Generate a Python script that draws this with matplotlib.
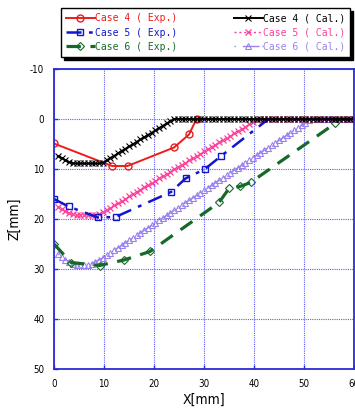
import matplotlib
matplotlib.use("Agg")
import matplotlib.pyplot as plt

plt.rcParams["axes.unicode_minus"] = False

# Measured profiles (experiment)
x_exp4 = [0.0, 11.6, 14.7, 24.0, 27.0, 28.5, 60.0]
z_exp4 = [4.9, 9.4, 9.4, 5.7, 3.1, 0.0, 0.0]

x_exp5 = [0.0, 2.9, 8.8, 12.3, 23.4, 26.3, 30.2, 33.3, 42.9, 60.0]
z_exp5 = [16.0, 17.5, 19.7, 19.6, 14.6, 11.9, 10.0, 7.5, 0.0, 0.0]

x_exp6 = [0.0, 3.4, 9.1, 14.0, 19.2, 33.0, 35.0, 37.2, 39.3, 56.2, 57.2, 60.0]
z_exp6 = [25.0, 28.7, 29.3, 28.2, 26.5, 16.7, 13.9, 13.5, 12.7, 0.9, 0.0, 0.0]

# Calculated profiles (shared X stations)
x_cal = [0.75, 1.5, 2.25, 3.0, 3.75, 4.5, 5.25, 6.0, 6.75, 7.5,
         8.25, 9.0, 9.75, 10.5, 11.25, 12.0, 12.75, 13.5, 14.25, 15.0,
         15.75, 16.5, 17.25, 18.0, 18.75, 19.5, 20.25, 21.0, 21.75, 22.5,
         23.25, 24.0, 24.75, 25.5, 26.25, 27.0, 27.75, 28.5, 29.25, 30.0,
         30.75, 31.5, 32.25, 33.0, 33.75, 34.5, 35.25, 36.0, 36.75, 37.5,
         38.25, 39.0, 39.75, 40.5, 41.25, 42.0, 42.75, 43.5, 44.25, 45.0,
         45.75, 46.5, 47.25, 48.0, 48.75, 49.5, 50.25, 51.0, 51.75, 52.5,
         53.25, 54.0, 54.75, 55.5, 56.25, 57.0, 57.75, 58.5, 59.25, 60.0]

z_cal4 = [7.4, 7.8, 8.2, 8.6, 8.85, 8.9, 8.9, 8.9, 8.9, 8.9,
          8.9, 8.9, 8.75, 8.3, 7.8, 7.4, 6.9, 6.4, 6.0, 5.5,
          5.1, 4.6, 4.1, 3.7, 3.2, 2.8, 2.3, 1.8, 1.4, 0.9,
          0.5, 0.0, 0.0, 0.0, 0.0, 0.0, 0.0, 0.0, 0.0, 0.0,
          0.0, 0.0, 0.0, 0.0, 0.0, 0.0, 0.0, 0.0, 0.0, 0.0,
          0.0, 0.0, 0.0, 0.0, 0.0, 0.0, 0.0, 0.0, 0.0, 0.0,
          0.0, 0.0, 0.0, 0.0, 0.0, 0.0, 0.0, 0.0, 0.0, 0.0,
          0.0, 0.0, 0.0, 0.0, 0.0, 0.0, 0.0, 0.0, 0.0, 0.0]

z_cal5 = [17.6, 18.0, 18.4, 18.8, 19.1, 19.2, 19.2, 19.2, 19.2, 19.2,
          19.2, 19.1, 18.7, 18.2, 17.8, 17.3, 16.9, 16.4, 16.0, 15.5,
          15.1, 14.6, 14.2, 13.7, 13.3, 12.8, 12.4, 11.9, 11.5, 11.0,
          10.6, 10.1, 9.7, 9.2, 8.8, 8.3, 7.9, 7.4, 7.0, 6.5,
          6.1, 5.6, 5.2, 4.7, 4.3, 3.8, 3.4, 2.9, 2.5, 2.0,
          1.6, 1.1, 0.7, 0.2, 0.0, 0.0, 0.0, 0.0, 0.0, 0.0,
          0.0, 0.0, 0.0, 0.0, 0.0, 0.0, 0.0, 0.0, 0.0, 0.0,
          0.0, 0.0, 0.0, 0.0, 0.0, 0.0, 0.0, 0.0, 0.0, 0.0]

z_cal6 = [27.0, 27.6, 28.1, 28.5, 28.9, 29.1, 29.2, 29.2, 29.1, 28.9,
          28.6, 28.2, 27.8, 27.3, 26.8, 26.3, 25.8, 25.3, 24.8, 24.3,
          23.8, 23.3, 22.8, 22.3, 21.8, 21.3, 20.8, 20.3, 19.8, 19.3,
          18.8, 18.3, 17.8, 17.3, 16.8, 16.3, 15.8, 15.3, 14.8, 14.3,
          13.8, 13.3, 12.8, 12.3, 11.8, 11.3, 10.8, 10.3, 9.8, 9.3,
          8.8, 8.3, 7.8, 7.3, 6.8, 6.3, 5.8, 5.3, 4.8, 4.3,
          3.8, 3.3, 2.8, 2.3, 1.8, 1.3, 0.8, 0.3, 0.0, 0.0,
          0.0, 0.0, 0.0, 0.0, 0.0, 0.0, 0.0, 0.0, 0.0, 0.0]

labels_exp = ["Case 4 ( Exp.)", "Case 5 ( Exp.)", "Case 6 ( Exp.)"]
labels_cal = ["Case 4 ( Cal.)", "Case 5 ( Cal.)", "Case 6 ( Cal.)"]
x_ticks = [0, 10, 20, 30, 40, 50, 60]
z_ticks = [-10, 0, 10, 20, 30, 40, 50]

c_red = "#ee1c1c"
c_blue = "#1414cc"
c_green = "#17692a"
c_black = "#000000"
c_pink = "#ff3d9a"
c_purple = "#9a82ee"
c_axis = "#2b2bd6"
c_grid = "#5a5aff"

narrow = dict(family="DejaVu Sans", stretch="condensed")

fig = plt.figure(figsize=(3.55, 4.11), dpi=100)
ax = fig.add_axes([54 / 355, 42 / 411, 300 / 355, 300 / 411])

# calculated curves
h_c6, = ax.plot(x_cal, z_cal6, color=c_purple, lw=1.0, linestyle=(0, (1, 5, 12, 2)),
                marker="^", ms=5, mfc="none", mec=c_purple, mew=0.8,
                label=labels_cal[2])
h_c5, = ax.plot(x_cal, z_cal5, color=c_pink, lw=1.0, linestyle=(0, (1.5, 2)),
                marker="x", ms=4.5, mec=c_pink, mew=0.9, label=labels_cal[1])

# measured curves
h_e6, = ax.plot(x_exp6, z_exp6, color=c_green, lw=2.3, linestyle=(0, (4.5, 3)),
                marker="D", ms=4.2, mfc="none", mec=c_green, mew=0.8,
                markevery=list(range(10)), label=labels_exp[2])
h_e5, = ax.plot(x_exp5, z_exp5, color=c_blue, lw=1.8, linestyle=(0, (6, 3, 1.5, 3)),
                marker="s", ms=5, mfc="none", mec=c_blue, mew=1.0,
                markevery=list(range(8)), label=labels_exp[1])
h_e4, = ax.plot(x_exp4, z_exp4, color=c_red, lw=1.4, linestyle="-",
                marker="o", ms=5, mfc="none", mec=c_red, mew=1.0,
                markevery=list(range(6)), label=labels_exp[0])
h_c4, = ax.plot(x_cal, z_cal4, color=c_black, lw=1.4, linestyle="-",
                marker="x", ms=4.5, mec=c_black, mew=0.8, label=labels_cal[0])

ax.set_xlim(0, 60)
ax.set_ylim(50, -10)
ax.set_xticks(x_ticks)
ax.set_yticks(z_ticks)
ax.grid(True, color=c_grid, linestyle=(0, (1, 1)), lw=0.8)
ax.set_axisbelow(True)
for s in ax.spines.values():
    s.set_color(c_axis)
    s.set_linewidth(1.3)
ax.tick_params(direction="in", length=3, width=1.0, color=c_axis,
               labelsize=7, top=False, right=False)
ax.tick_params(axis="y", pad=7)
ax.tick_params(axis="x", pad=7)
for lab in ax.get_xticklabels() + ax.get_yticklabels():
    lab.set_fontstretch("condensed")

ax.set_xlabel("X[mm]", fontsize=10, labelpad=3, **narrow)
ax.set_ylabel("Z[mm]", fontsize=10, labelpad=6, **narrow)

handles = [h_e4, h_e5, h_e6, h_c4, h_c5, h_c6]
leg = fig.legend(handles=handles, labels=labels_exp + labels_cal, ncol=2,
                 loc="center", mode="expand", borderaxespad=0,
                 bbox_to_anchor=(61 / 355, 1 - 57 / 411, 289 / 355, 49 / 411),
                 bbox_transform=fig.transFigure,
                 numpoints=1, handlelength=3.0, handletextpad=0.0,
                 columnspacing=1.0, labelspacing=0.45, borderpad=0.5,
                 fancybox=False, edgecolor="black", framealpha=1,
                 shadow={"color": "black", "alpha": 1.0},
                 prop={"family": "DejaVu Sans Mono", "size": 7})
leg.get_frame().set_linewidth(1.0)
for txt, h in zip(leg.get_texts(), handles):
    txt.set_color(h.get_color())

fig.savefig("out.png", dpi=100)
